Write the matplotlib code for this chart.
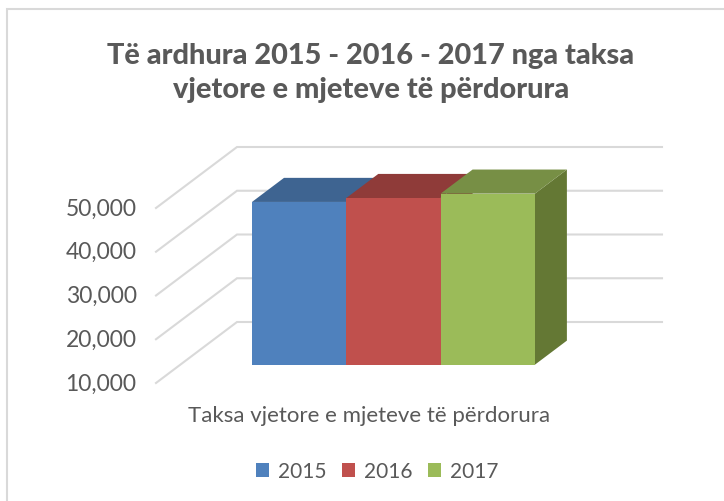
import matplotlib
matplotlib.use("Agg")
import matplotlib.pyplot as plt
from matplotlib.patches import Polygon, Patch
from matplotlib.lines import Line2D
from matplotlib.transforms import ScaledTranslation

plt.rcParams['font.family'] = ['Lato', 'DejaVu Sans']

W, H = 724, 502
series = ['2015', '2016', '2017']
values = [47200, 48100, 49100]
category = ['Taksa vjetore e mjeteve të përdorura']
yticks = [10000, 20000, 30000, 40000, 50000]
front_colors = ['#4F81BD', '#C0504D', '#9BBB59']
top_colors = ['#3E6491', '#8F3B39', '#778F45']
side_colors = ['#3A5C86', '#853836', '#647834']
title = 'Të ardhura 2015 - 2016 - 2017 nga taksa\nvjetore e mjeteve të përdorura'

TEXT = '#595959'
GRID = '#D9D9D9'

fig = plt.figure(figsize=(W / 100, H / 100), dpi=100, facecolor='white')

# pixel box of the plot area
L, R, T, B = 156, 662, 148, 384
ax = fig.add_axes([L / W, 1 - B / H, (R - L) / W, (B - T) / H])
PX_X = 94.3            # pixels per category
PX_V = 43.75 / 10000   # pixels per value unit
x0 = (L - 227.7) / PX_X
ax.set_xlim(x0, x0 + (R - L) / PX_X)
ax.set_ylim(10000, 10000 + (B - T) / PX_V)

DX = 81 / PX_X         # oblique shift of full depth, x units
DY = 61 / PX_V         # oblique shift of full depth, value units
D0, D1 = 0.30, 0.695   # depth span of bars


def proj(x, v, t):
    return x + t * DX, v + t * DY


# wall gridlines
xl_front = x0
xr_back = x0 + (R - L) / PX_X - DX
for v in yticks:
    p = [proj(xl_front, v, 0), proj(xl_front, v, 1), proj(xr_back, v, 1)]
    ax.plot(*zip(*p), color=GRID, lw=1.5, clip_on=False, zorder=1,
            solid_joinstyle='miter')

# oblique bars
for i, (val, fc, tc, sc) in enumerate(zip(values, front_colors, top_colors, side_colors)):
    z = 2 + i
    base = yticks[0]
    front = [proj(i, base, D0), proj(i + 1, base, D0), proj(i + 1, val, D0), proj(i, val, D0)]
    top = [proj(i, val, D0), proj(i + 1, val, D0), proj(i + 1, val, D1), proj(i, val, D1)]
    side = [proj(i + 1, base, D0), proj(i + 1, base, D1), proj(i + 1, val, D1), proj(i + 1, val, D0)]
    ax.add_patch(Polygon(side, closed=True, fc=sc, ec='none', zorder=z, clip_on=False))
    ax.add_patch(Polygon(top, closed=True, fc=tc, ec='none', zorder=z, clip_on=False))
    ax.add_patch(Polygon(front, closed=True, fc=fc, ec='none', zorder=z + 0.1, clip_on=False))

for s in ax.spines.values():
    s.set_visible(False)
ax.patch.set_visible(False)
ax.set_yticks(yticks)
ax.set_yticklabels([f'{v:,}' for v in yticks], fontsize=16.5, color=TEXT)
ax.tick_params(axis='y', length=0, pad=14)
up = ScaledTranslation(0, 1.5 / 72, fig.dpi_scale_trans)
for lab in ax.get_yticklabels():
    lab.set_transform(lab.get_transform() + up)
ax.set_xticks([1.5])
ax.set_xticklabels(category, fontsize=16, color=TEXT)
ax.tick_params(axis='x', length=0, pad=16)

# title
fig.text(371 / W, 1 - 73 / H, title, ha='center', va='center', fontsize=20.8,
         fontweight='black', color=TEXT, linespacing=1.4)

# legend
handles = [Patch(fc=c, ec='none', label=s) for c, s in zip(front_colors, series)]
ax.legend(handles=handles, loc='center', bbox_to_anchor=(377 / W, 1 - 472 / H),
          bbox_transform=fig.transFigure, ncols=3, frameon=False, fontsize=15,
          labelcolor=TEXT, handlelength=0.65, handleheight=0.65, handletextpad=0.4,
          columnspacing=0.75, borderpad=0)

# chart frame (left and top edges show in the crop)
fig.add_artist(Line2D([7 / W, 7 / W, 1], [0, 1 - 10 / H, 1 - 10 / H],
                      transform=fig.transFigure, color=GRID, lw=1.5,
                      solid_joinstyle='miter'))

fig.savefig('out.png', dpi=100)
